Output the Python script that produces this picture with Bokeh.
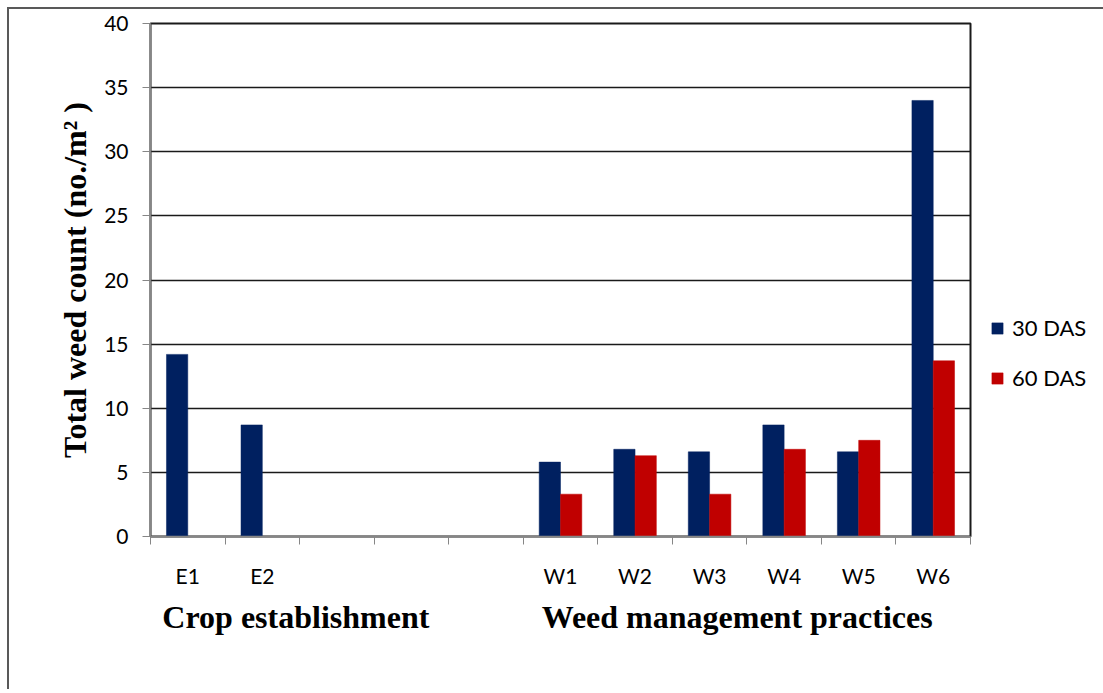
from bokeh.plotting import figure
from bokeh.models import (Range1d, FixedTicker, Legend, LegendItem,
                          ColumnDataSource, LinearAxis)
from bokeh.embed import file_html
from bokeh.resources import INLINE

# ---- data ----
categories = ["E1", "E2", "", "", "", "W1", "W2", "W3", "W4", "W5", "W6"]
das30 = [14.2, 8.7, None, None, None, 5.8, 6.8, 6.6, 8.7, 6.6, 34.0]
das60 = [None, None, None, None, None, 3.3, 6.3, 3.3, 6.8, 7.5, 13.7]
series_names = ["30 DAS", "60 DAS"]
y_ticks = [0, 5, 10, 15, 20, 25, 30, 35, 40]
group_names = ["Crop establishment", "Weed management practices"]
y_title = "Total weed count (no./m\u00b2 )"

colors = ["#002060", "#C00000"]
TICK_FONT = "Lato"
TITLE_FONT = "Liberation Serif"

n = len(categories)
bar_w = 1.0 / 3.5

p = figure(frame_width=820, frame_height=513, output_backend="svg",
           toolbar_location=None,
           x_range=Range1d(0, n), y_range=Range1d(0, 40),
           min_border_left=141, min_border_right=129, min_border_top=14,
           min_border_bottom=153, background_fill_color="white",
           border_fill_color="white")
p.styles = {"border-left": "2px solid #595959", "border-top": "2px solid #595959",
            "margin-left": "7px", "margin-top": "7px"}

renderers = []
for k, (vals, name, col) in enumerate(zip([das30, das60], series_names, colors)):
    xs, tops = [], []
    for i, v in enumerate(vals):
        if v is not None:
            xs.append(i + 0.5 + (k - 0.5) * bar_w)
            tops.append(v)
    src = ColumnDataSource(dict(x=xs, top=tops))
    r = p.vbar(x="x", top="top", bottom=0, width=bar_w, source=src,
               fill_color=col, line_color=col, line_width=0.5)
    renderers.append((name, r))

# grid
p.xgrid.grid_line_color = None
p.ygrid.ticker = FixedTicker(ticks=y_ticks)
p.ygrid.grid_line_color = "#1a1a1a"
p.ygrid.grid_line_width = 1.3
p.outline_line_color = "#1a1a1a"
p.outline_line_width = 2

# y axis
yax = p.yaxis[0]
yax.ticker = FixedTicker(ticks=y_ticks)
yax.axis_line_color = "#868686"
yax.axis_line_width = 1.5
yax.major_tick_line_color = "#868686"
yax.major_tick_out = 8
yax.major_tick_in = 0
yax.minor_tick_line_color = None
yax.major_label_text_font = TICK_FONT
yax.major_label_text_font_size = "21px"
yax.major_label_text_color = "black"
yax.major_label_standoff = 14
yax.axis_label = y_title
yax.axis_label_text_font = TITLE_FONT
yax.axis_label_text_font_style = "bold"
yax.axis_label_text_font_size = "32px"
yax.axis_label_text_color = "black"
yax.axis_label_standoff = 8

# x axis: labels at category centres, tick marks at category boundaries
xax = p.xaxis[0]
centers = [i + 0.5 for i in range(n)]
bounds = [i for i in range(n + 1)]
xax.ticker = FixedTicker(ticks=centers, minor_ticks=bounds)
xax.major_label_overrides = {c: lab for c, lab in zip(centers, categories)}
xax.axis_line_color = "#868686"
xax.axis_line_width = 1.5
xax.major_tick_line_color = None
xax.major_tick_out = 0
xax.major_tick_in = 0
xax.minor_tick_line_color = "#868686"
xax.minor_tick_out = 8
xax.minor_tick_in = 0
xax.major_label_text_font = TICK_FONT
xax.major_label_text_font_size = "21px"
xax.major_label_text_color = "black"
xax.major_label_standoff = 18

# group labels as a second axis below
group_pos = [1.95, 7.87]
gax = LinearAxis(ticker=FixedTicker(ticks=group_pos, minor_ticks=[]),
                 major_label_overrides={g: nm for g, nm in zip(group_pos, group_names)},
                 axis_line_color=None, major_tick_line_color=None,
                 minor_tick_line_color=None, major_tick_out=0, major_tick_in=0,
                 major_label_standoff=8, major_label_text_font=TITLE_FONT,
                 major_label_text_font_style="bold",
                 major_label_text_font_size="32px",
                 major_label_text_color="black")
p.add_layout(gax, "below")

# legend
legend = Legend(items=[LegendItem(label=nm, renderers=[r]) for nm, r in renderers],
                location=(20, 145), orientation="vertical",
                glyph_width=14, glyph_height=14, label_height=20,
                label_standoff=8, spacing=23, padding=0, margin=0,
                border_line_color=None, background_fill_alpha=0,
                label_text_font=TICK_FONT, label_text_font_size="22px",
                label_text_color="black")
p.add_layout(legend, "right")

open("out.html", "w").write(file_html(p, INLINE))
